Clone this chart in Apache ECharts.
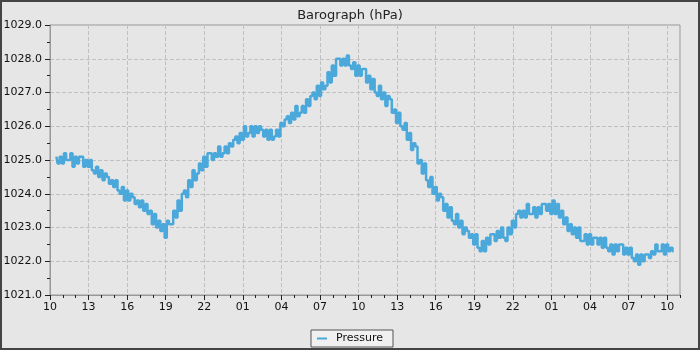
<!DOCTYPE html>
<html>
<head>
<meta charset="utf-8">
<script src="https://cdn.jsdelivr.net/npm/echarts@6/dist/echarts.min.js"></script>
<style>
  body { margin: 0; }
  #chart { width: 700px; height: 350px; }
</style>
</head>
<body>
<div id="chart"></div>
<script>
// hours counted from the first 10:00 on the axis
var startHour = 10
var firstSample = 0.5
var sampleStep = 1 / 6
// pressure readings (hPa), one every 10 minutes
var pressure = [
  1025.1, 1024.9, 1025.1, 1024.9, 1025.2, 1025.0,
  1025.0, 1025.2, 1024.8, 1025.1, 1024.9, 1025.1,
  1025.1, 1024.8, 1025.0, 1024.8, 1025.0, 1024.7,
  1024.6, 1024.8, 1024.5, 1024.7, 1024.4, 1024.6,
  1024.5, 1024.3, 1024.4, 1024.2, 1024.4, 1024.1,
  1024.0, 1024.2, 1023.8, 1024.1, 1023.8, 1024.0,
  1023.9, 1023.7, 1023.8, 1023.6, 1023.8, 1023.5,
  1023.7, 1023.4, 1023.5, 1023.1, 1023.4, 1023.0,
  1023.2, 1022.9, 1023.1, 1022.7, 1023.2, 1023.1,
  1023.1, 1023.5, 1023.3, 1023.8, 1023.5, 1024.0,
  1024.1, 1023.9, 1024.4, 1024.2, 1024.7, 1024.4,
  1024.6, 1024.9, 1024.7, 1025.1, 1024.8, 1025.2,
  1025.2, 1025.0, 1025.2, 1025.1, 1025.4, 1025.1,
  1025.2, 1025.4, 1025.2, 1025.5, 1025.4, 1025.6,
  1025.7, 1025.5, 1025.8, 1025.6, 1026.0, 1025.7,
  1025.8, 1026.0, 1025.7, 1026.0, 1025.8, 1026.0,
  1025.9, 1025.7, 1025.9, 1025.6, 1025.9, 1025.6,
  1025.7, 1025.9, 1025.7, 1026.1, 1026.0, 1026.2,
  1026.3, 1026.1, 1026.4, 1026.2, 1026.6, 1026.3,
  1026.4, 1026.6, 1026.4, 1026.8, 1026.6, 1026.9,
  1027.0, 1026.8, 1027.2, 1026.9, 1027.3, 1027.1,
  1027.2, 1027.6, 1027.3, 1027.8, 1027.5, 1028.0,
  1028.0, 1027.8, 1028.0, 1027.8, 1028.1, 1027.8,
  1027.7, 1027.9, 1027.5, 1027.8, 1027.5, 1027.7,
  1027.7, 1027.3, 1027.5, 1027.1, 1027.4, 1027.0,
  1026.9, 1027.2, 1026.8, 1027.0, 1026.6, 1026.9,
  1026.8, 1026.4, 1026.5, 1026.1, 1026.4, 1026.0,
  1025.9, 1026.1, 1025.6, 1025.8, 1025.3, 1025.5,
  1025.4, 1024.9, 1025.0, 1024.6, 1024.9, 1024.4,
  1024.2, 1024.5, 1024.0, 1024.2, 1023.8, 1024.0,
  1023.9, 1023.5, 1023.7, 1023.3, 1023.6, 1023.2,
  1023.1, 1023.4, 1023.0, 1023.2, 1022.8, 1023.0,
  1022.9, 1022.7, 1022.8, 1022.5, 1022.8, 1022.4,
  1022.3, 1022.6, 1022.3, 1022.7, 1022.5, 1022.8,
  1022.8, 1022.6, 1022.9, 1022.7, 1023.0, 1022.7,
  1022.6, 1023.0, 1022.8, 1023.2, 1023.0, 1023.4,
  1023.5, 1023.3, 1023.5, 1023.3, 1023.7, 1023.4,
  1023.4, 1023.6, 1023.3, 1023.6, 1023.4, 1023.7,
  1023.7, 1023.5, 1023.7, 1023.4, 1023.8, 1023.4,
  1023.7, 1023.3, 1023.5, 1023.1, 1023.3, 1022.9,
  1023.1, 1022.8, 1023.0, 1022.7, 1023.0, 1022.6,
  1022.6, 1022.8, 1022.5, 1022.8, 1022.5, 1022.7,
  1022.7, 1022.5, 1022.7, 1022.4, 1022.7, 1022.4,
  1022.3, 1022.5, 1022.2, 1022.5, 1022.3, 1022.5,
  1022.5, 1022.2, 1022.4, 1022.2, 1022.4, 1022.1,
  1022.0, 1022.2, 1021.9, 1022.2, 1022.0, 1022.2,
  1022.2, 1022.1, 1022.3, 1022.2, 1022.5, 1022.3,
  1022.3, 1022.5, 1022.2, 1022.5, 1022.3, 1022.4,
  1022.3
]
var xMin = 0
var xMax = 49
var yMin = 1021
var yMax = 1029

var font = 'DejaVu Sans'
var points = pressure.map(function (v, i) { return [firstSample + i * sampleStep, v] })

var chart = echarts.init(document.getElementById('chart'))
chart.setOption({
  backgroundColor: '#e6e6e6',
  animation: false,
  textStyle: { fontFamily: font },
  graphic: [{
    type: 'rect',
    shape: { x: 0, y: 0, width: 700, height: 350 },
    style: { fill: 'none', stroke: '#444', lineWidth: 4 },
    silent: true
  }],
  title: {
    text: 'Barograph (hPa)',
    left: 'center',
    top: 4,
    textStyle: { fontFamily: font, fontSize: 13, fontWeight: 'normal', color: '#222' }
  },
  legend: {
    data: ['Pressure'],
    bottom: 3,
    left: 'center',
    icon: 'rect',
    itemWidth: 10,
    itemHeight: 2,
    backgroundColor: '#f0f0f0',
    borderColor: '#555',
    borderWidth: 1,
    borderRadius: 0,
    padding: [3, 10, 3, 6],
    textStyle: { fontFamily: font, fontSize: 11, color: '#111', padding: [0, 0, 0, 4] }
  },
  grid: {
    left: 50,
    right: 20,
    top: 25,
    bottom: 55,
    show: true,
    borderColor: '#999',
    borderWidth: 1
  },
  xAxis: [{
    type: 'value',
    min: xMin,
    max: xMax,
    interval: 3,
    axisLine: { lineStyle: { color: '#999' } },
    axisTick: { length: 5, lineStyle: { color: '#222' } },
    axisLabel: {
      margin: 7,
      fontSize: 11,
      color: '#111',
      showMaxLabel: false,
      formatter: function (v) {
        var h = (startHour + v) % 24
        return (h < 10 ? '0' : '') + h
      }
    },
    splitLine: { show: true, lineStyle: { color: '#c0c0c0', type: [4, 2] } }
  }, {
    type: 'value',
    min: xMin,
    max: xMax,
    interval: 1,
    position: 'bottom',
    axisLine: { show: false },
    axisTick: { length: 3, lineStyle: { color: '#222' } },
    axisLabel: { show: false },
    splitLine: { show: false }
  }],
  yAxis: {
    type: 'value',
    min: yMin,
    max: yMax,
    interval: 1,
    axisLine: { show: true, lineStyle: { color: '#999' } },
    axisTick: { show: true, length: 5, lineStyle: { color: '#222' } },
    minorTick: { show: true, splitNumber: 2, length: 3, lineStyle: { color: '#222' } },
    axisLabel: {
      margin: 8,
      fontSize: 11,
      color: '#111',
      formatter: function (v) { return v.toFixed(1) }
    },
    splitLine: { show: true, lineStyle: { color: '#c0c0c0', type: [4, 2] } }
  },
  series: [{
    name: 'Pressure',
    type: 'line',
    xAxisIndex: 0,
    data: points,
    showSymbol: false,
    step: 'middle',
    color: '#4aa8da',
    lineStyle: { width: 2.5, color: '#4aa8da' }
  }]
})
</script>
</body>
</html>
